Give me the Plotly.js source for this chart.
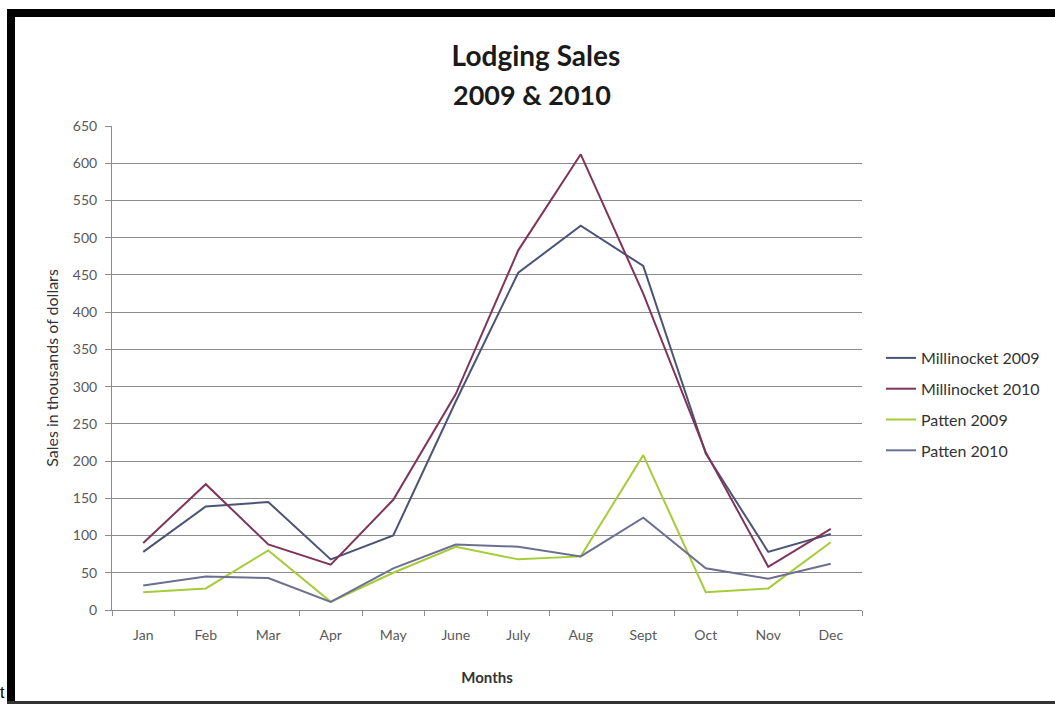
<!DOCTYPE html>
<html>
<head>
<meta charset="utf-8">
<script src="https://cdn.plot.ly/plotly-3.0.1.min.js"></script>
<style>
  html, body { margin: 0; padding: 0; background: #fff; }
  #wrap { position: relative; width: 1055px; height: 704px; overflow: hidden; background: #fff; }
  #chart { position: absolute; left: 0; top: 0; width: 1055px; height: 704px; }
  .frame { position: absolute; background: #000; pointer-events: none; }
  #stray { position: absolute; left: 0px; top: 684px; font-family: "Liberation Sans", sans-serif; font-size: 16px; color: #000; }
</style>
</head>
<body>
<div id="wrap">
  <div id="chart"></div>
  <div class="frame" style="left:7px; top:9px; width:1048px; height:8px;"></div>
  <div class="frame" style="left:7px; top:9px; width:8px; height:695px;"></div>
  <div class="frame" style="left:7px; top:701px; width:1048px; height:3px; background:#333;"></div>
  <span id="stray">t</span>
</div>
<script>
const months = ['Jan','Feb','Mar','Apr','May','June','July','Aug','Sept','Oct','Nov','Dec'];
const millinocket2009 = [78, 139, 145, 68, 100, 280, 453, 516, 462, 210, 78, 102];
const millinocket2010 = [90, 169, 88, 61, 148, 290, 483, 612, 425, 212, 58, 109];
const patten2009 = [24, 29, 80, 11, 50, 85, 68, 72, 208, 24, 29, 91];
const patten2010 = [33, 45, 43, 11, 56, 88, 85, 72, 124, 56, 42, 62];
const seriesNames = ['Millinocket 2009', 'Millinocket 2010', 'Patten 2009', 'Patten 2010'];
const seriesColors = ['#4b5475', '#7f3559', '#a6cc3a', '#6c7090'];
const seriesValues = [millinocket2009, millinocket2010, patten2009, patten2010];

const FONT = 'Lato, "Open Sans", sans-serif';

const traces = seriesValues.map((vals, i) => ({
  type: 'scatter',
  mode: 'lines',
  x: months,
  y: vals,
  name: seriesNames[i],
  legendgroup: 'g' + i,
  line: { color: seriesColors[i], width: 2 }
}));

const layout = {
  width: 1055,
  height: 704,
  paper_bgcolor: 'rgba(0,0,0,0)',
  plot_bgcolor: '#ffffff',
  margin: { l: 112, r: 193, t: 126, b: 94, autoexpand: false },
  showlegend: true,
  title: {
    text: '<b>Lodging Sales</b>',
    font: { family: FONT, size: 28, color: '#1a1a1a' },
    xref: 'container', x: 0.508, xanchor: 'center',
    yref: 'container', y: 1 - 56 / 704, yanchor: 'middle'
  },
  annotations: [{
    text: '<b>2009 & 2010</b>',
    font: { family: FONT, size: 27, color: '#1a1a1a' },
    xref: 'paper', yref: 'paper',
    x: (532 - 112) / 750, y: (610 - 95) / 484,
    xanchor: 'center', yanchor: 'middle', showarrow: false
  }],
  xaxis: {
    type: 'category',
    range: [-0.5, 11.5],
    tickson: 'boundaries',
    ticks: 'outside', ticklen: 5, tickcolor: '#8c8c8c',
    showline: true, linecolor: '#8c8c8c', linewidth: 1,
    showgrid: false, zeroline: false,
    ticklabelstandoff: 12,
    tickfont: { family: FONT, size: 14, color: '#595959' },
    title: { text: '<b>Months</b>', font: { family: FONT, size: 15, color: '#333' }, standoff: 30 }
  },
  yaxis: {
    range: [0, 650],
    dtick: 50,
    ticks: 'outside', ticklen: 6, tickcolor: '#8c8c8c',
    showline: true, linecolor: '#8c8c8c', linewidth: 1,
    showgrid: true, gridcolor: '#8c8c8c', gridwidth: 1,
    zeroline: false,
    ticklabelstandoff: 5,
    tickfont: { family: FONT, size: 14, color: '#595959' },
    title: { text: 'Sales in thousands of dollars', font: { family: FONT, size: 16, color: '#333' }, standoff: 10 }
  },
  legend: {
    x: (881 - 112) / 750, xanchor: 'left',
    y: (610 - 341) / 484, yanchor: 'top',
    traceorder: 'grouped',
    tracegroupgap: 7,
    itemwidth: 30,
    bgcolor: 'rgba(0,0,0,0)',
    font: { family: FONT, size: 16, color: '#333' }
  }
};

Plotly.newPlot('chart', traces, layout, { displayModeBar: false, staticPlot: true });
</script>
</body>
</html>
